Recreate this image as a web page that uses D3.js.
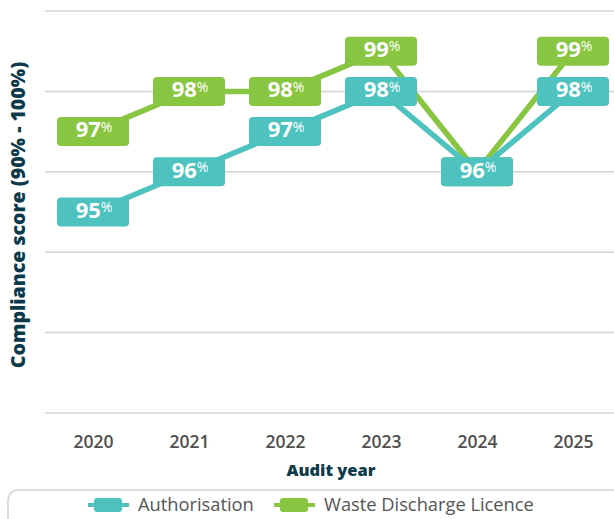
<!DOCTYPE html>
<html lang="en">
<head>
<meta charset="UTF-8">
<title>Compliance score by audit year</title>
<script src="https://cdn.jsdelivr.net/npm/d3@7"></script>
<style>
  body { margin: 0; background: #ffffff; font-family: "Open Sans", Lato, sans-serif; }
  svg { display: block; }
</style>
</head>
<body>
<div id="chart"></div>
<script>
// data
const years = ["2020", "2021", "2022", "2023", "2024", "2025"];
const authorisation = [95, 96, 97, 98, 96, 98];
const wasteDischarge = [97, 98, 98, 99, 96, 99];
const gridTicks = [90, 92, 94, 96, 98, 100];

const series = [
  { name: "Authorisation", color: "#4dc2bf", values: authorisation },
  { name: "Waste Discharge Licence", color: "#88c540", values: wasteDischarge }
];

const W = 614, H = 519;
const svg = d3.select("#chart").append("svg")
  .attr("width", W).attr("height", H);

const x = d3.scalePoint().domain(years).range([45, 621]).padding(0.5);
const y = d3.scaleLinear().domain([90, 100]).range([413, 11]);

// gridlines
svg.append("g")
  .selectAll("line")
  .data(gridTicks)
  .join("line")
  .attr("x1", 45).attr("x2", W)
  .attr("y1", d => y(d)).attr("y2", d => y(d))
  .attr("stroke", "#d4d4d4").attr("stroke-width", 1.5);

// x axis labels
svg.append("g")
  .attr("transform", "translate(0,442)")
  .call(d3.axisBottom(x).tickSize(0).tickPadding(0))
  .call(g => g.select(".domain").remove())
  .selectAll("text")
  .attr("dy", "0.35em")
  .style("font-family", "'Open Sans', sans-serif")
  .style("font-size", "17.5px")
  .style("font-weight", "600")
  .style("fill", "#4f4f4f");

svg.append("text")
  .attr("x", 331).attr("y", 476)
  .attr("text-anchor", "middle")
  .style("font-size", "16.5px").style("font-weight", "800")
  .style("fill", "#0d3a4a")
  .text("Audit year");

svg.append("text")
  .attr("transform", "translate(25,215) rotate(-90)")
  .attr("text-anchor", "middle")
  .style("font-size", "19.5px").style("font-weight", "800")
  .style("fill", "#0d3a4a")
  .text("Compliance score (90% - 100%)");

const line = d3.line().x((d, i) => x(years[i])).y(d => y(d));

// draw green first so teal sits on top
const order = [series[1], series[0]];

order.forEach(s => {
  svg.append("path")
    .datum(s.values)
    .attr("d", line)
    .attr("fill", "none")
    .attr("stroke", s.color)
    .attr("stroke-width", 5.5);
});

order.forEach(s => {
  const g = svg.append("g").selectAll("g")
    .data(s.values)
    .join("g")
    .attr("transform", (d, i) => `translate(${x(years[i])},${y(d)})`);
  g.append("rect")
    .attr("x", -36).attr("y", -14.5)
    .attr("width", 72).attr("height", 29)
    .attr("rx", 4)
    .attr("fill", s.color);
  const t = g.append("text")
    .attr("text-anchor", "middle")
    .attr("dy", "0.36em")
    .attr("dx", 1)
    .style("fill", "#ffffff");
  t.append("tspan")
    .style("font-size", "22px").style("font-weight", "700")
    .text(d => d);
  t.append("tspan")
    .attr("dy", "-0.4em")
    .style("font-size", "14px").style("font-weight", "400")
    .text("%");
});

// legend
svg.append("rect")
  .attr("x", 8).attr("y", 490)
  .attr("width", 620).attr("height", 50)
  .attr("rx", 10)
  .attr("fill", "none")
  .attr("stroke", "#d4d4d4").attr("stroke-width", 1.5);

const legendX = [88, 274];
series.forEach((s, i) => {
  const lg = svg.append("g").attr("transform", `translate(${legendX[i]},505)`);
  lg.append("line")
    .attr("x1", 0).attr("x2", 41)
    .attr("stroke", s.color).attr("stroke-width", 4);
  lg.append("rect")
    .attr("x", 6).attr("y", -7)
    .attr("width", 28).attr("height", 14)
    .attr("rx", 3)
    .attr("fill", s.color);
  lg.append("text")
    .attr("x", 50).attr("dy", "0.35em")
    .style("font-size", "18.3px")
    .style("fill", "#555555")
    .text(s.name);
});
</script>
</body>
</html>
